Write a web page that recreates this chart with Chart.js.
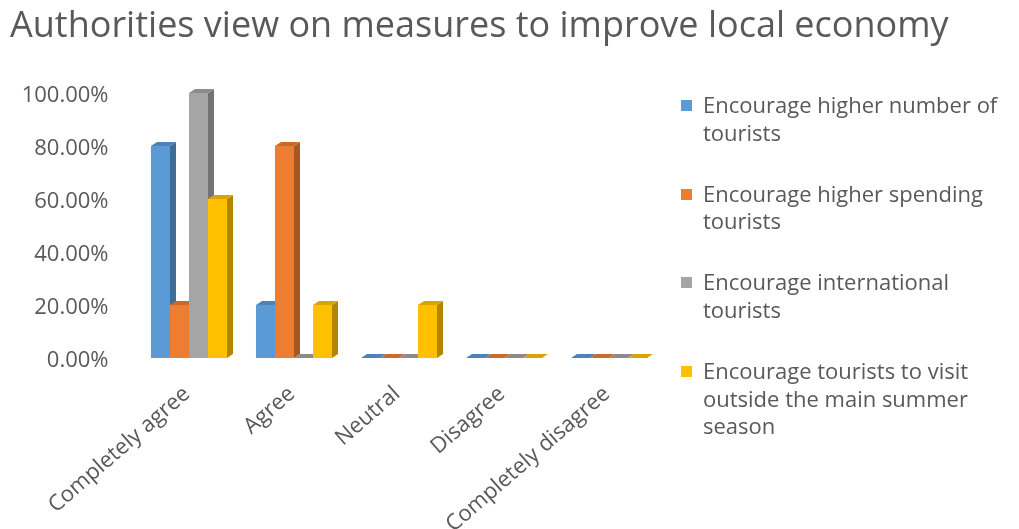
<!DOCTYPE html>
<html>
<head>
<meta charset="utf-8">
<script src="https://cdn.jsdelivr.net/npm/chart.js@4"></script>
<style>
  body { margin: 0; background: #fff; }
  #box { position: relative; width: 1019px; height: 529px; }
  #measuresTitle { position: absolute; left: 10px; top: 0; margin: 0; white-space: nowrap;
    font-family: "Open Sans", sans-serif; font-weight: normal; font-size: 36px; line-height: 48px; color: #595959; }
  #measuresLegend { position: absolute; left: 681px; top: 91px; width: 335px; margin: 0; padding: 0; list-style: none;
    font-family: "Open Sans", sans-serif; font-size: 22px; line-height: 27.8px; color: #595959; }
  #measuresLegend li { display: flex; align-items: flex-start; margin-bottom: 33px; }
  #measuresLegend span.box { flex: none; width: 11px; height: 11px; margin-top: 9px; margin-right: 11px; }
  #measuresLegend span.txt { width: 310px; }
</style>
</head>
<body>
<div id="box">
  <canvas id="measuresChart" width="1019" height="529"></canvas>
  <h1 id="measuresTitle">Authorities view on measures to improve local economy</h1>
  <ul id="measuresLegend"></ul>
</div>
<script>
const CHART = document.getElementById("measuresChart");

const categories = ["Completely agree", "Agree", "Neutral", "Disagree", "Completely disagree"];
const seriesNames = [
  "Encourage higher number of tourists",
  "Encourage higher spending tourists",
  "Encourage international tourists",
  "Encourage tourists to visit outside the main summer season"
];
const higherNumber = [80, 20, 0, 0, 0];
const higherSpending = [20, 80, 0, 0, 0];
const international = [100, 0, 0, 0, 0];
const outsideSummer = [60, 20, 20, 0, 0];
const seriesColors = ["#5B9BD5", "#ED7D31", "#A5A5A5", "#FFC000"];

const TEXT_COLOR = "#595959";
const FONT = "'Open Sans', sans-serif";
const DEPTH_X = 6;
const DEPTH_Y = 4;

function shade(hex, f) {
  let n = parseInt(hex.slice(1), 16);
  let r = Math.round(((n >> 16) & 255) * f);
  let g = Math.round(((n >> 8) & 255) * f);
  let b = Math.round((n & 255) * f);
  return "rgb(" + r + "," + g + "," + b + ")";
}

// redraw every bar as a little box: front, right side and top
const bars3d = {
  id: "bars3d",
  afterDatasetsDraw(chart) {
    const ctx = chart.ctx;
    ctx.save();
    for (let i = 0; i < categories.length; i++) {
      chart.data.datasets.forEach(function (ds, d) {
        let bar = chart.getDatasetMeta(d).data[i];
        let p = bar.getProps(["x", "y", "base", "width"], true);
        let left = p.x - p.width / 2;
        let right = p.x + p.width / 2;
        let color = ds.backgroundColor;

        ctx.fillStyle = color;
        ctx.fillRect(left, p.y, p.width, p.base - p.y);

        ctx.fillStyle = shade(color, 0.7);
        ctx.beginPath();
        ctx.moveTo(right, p.y);
        ctx.lineTo(right + DEPTH_X, p.y - DEPTH_Y);
        ctx.lineTo(right + DEPTH_X, p.base - DEPTH_Y);
        ctx.lineTo(right, p.base);
        ctx.closePath();
        ctx.fill();

        ctx.fillStyle = shade(color, 0.85);
        ctx.beginPath();
        ctx.moveTo(left, p.y);
        ctx.lineTo(left + DEPTH_X, p.y - DEPTH_Y);
        ctx.lineTo(right + DEPTH_X, p.y - DEPTH_Y);
        ctx.lineTo(right, p.y);
        ctx.closePath();
        ctx.fill();
      });
    }
    ctx.restore();
  }
};

// legend on the right, written as html so the long names can wrap
const htmlLegend = {
  id: "htmlLegend",
  afterUpdate(chart) {
    const ul = document.getElementById("measuresLegend");
    ul.innerHTML = "";
    chart.data.datasets.forEach(function (ds) {
      let li = document.createElement("li");
      let box = document.createElement("span");
      box.className = "box";
      box.style.background = ds.backgroundColor;
      let txt = document.createElement("span");
      txt.className = "txt";
      txt.textContent = ds.label;
      li.appendChild(box);
      li.appendChild(txt);
      ul.appendChild(li);
    });
  }
};

let measuresChart = new Chart(CHART, {
  type: "bar",
  data: {
    labels: categories,
    datasets: [higherNumber, higherSpending, international, outsideSummer].map(function (values, k) {
      return {
        label: seriesNames[k],
        data: values,
        backgroundColor: seriesColors[k],
        barPercentage: 1,
        categoryPercentage: 0.724
      };
    })
  },
  options: {
    responsive: false,
    animation: false,
    layout: { padding: { left: 10, right: 357.5, top: 93, bottom: 0 } },
    plugins: {
      legend: { display: false },
      tooltip: { enabled: false },
      title: { display: false }
    },
    scales: {
      x: {
        grid: { display: false, drawTicks: false },
        border: { display: false },
        afterFit: function (scale) { scale.height = 171; },
        ticks: {
          color: TEXT_COLOR,
          font: { family: FONT, size: 22 },
          minRotation: 41,
          maxRotation: 41,
          padding: 23,
          labelOffset: -2
        }
      },
      y: {
        min: 0,
        max: 100,
        grid: { display: false, drawTicks: false },
        border: { display: false },
        afterFit: function (scale) { scale.width = 126.5; },
        ticks: {
          stepSize: 20,
          color: TEXT_COLOR,
          font: { family: FONT, size: 22 },
          padding: 28,
          labelOffset: 3,
          callback: function (value) { return value.toFixed(2) + "%"; }
        }
      }
    }
  },
  plugins: [bars3d, htmlLegend]
});
</script>
</body>
</html>
